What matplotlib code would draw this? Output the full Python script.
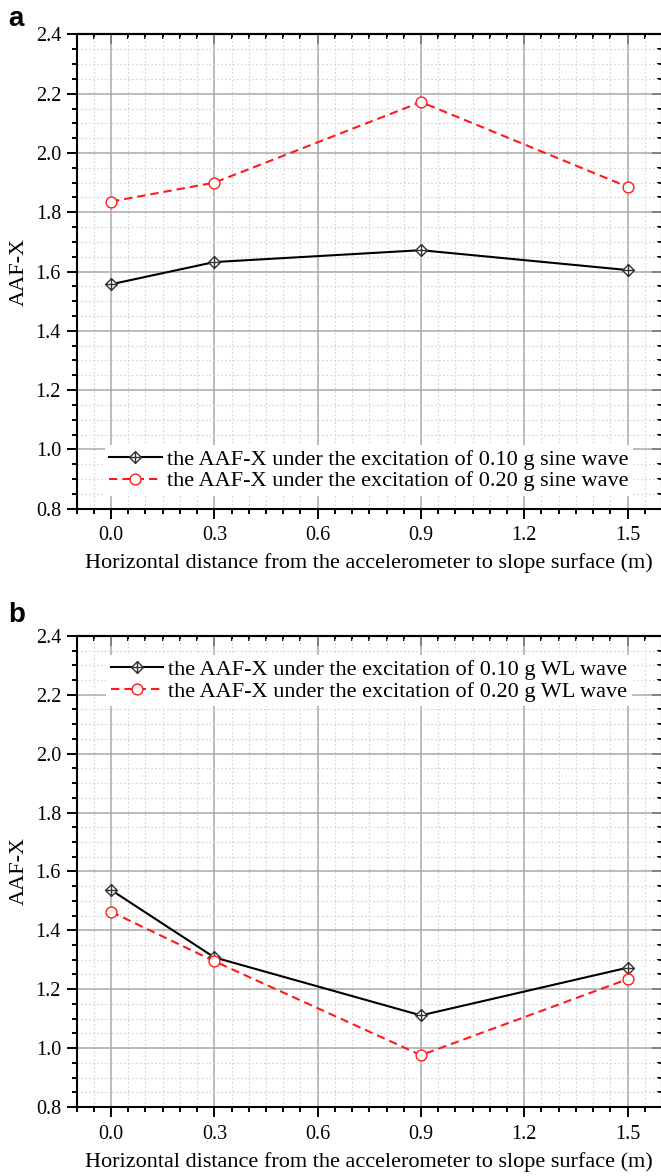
import matplotlib
matplotlib.use('Agg')
import matplotlib.pyplot as plt
from matplotlib.path import Path
from matplotlib.ticker import MultipleLocator

plt.rcParams['font.family'] = ['Liberation Serif', 'DejaVu Serif']

# distances from slope surface (m)
dist = [0.0, 0.3, 0.9, 1.5]

# panel a: sine wave
sine_010 = [1.557, 1.632, 1.672, 1.605]
sine_020 = [1.836, 1.900, 2.172, 1.886]
# panel b: WL wave
wl_010 = [1.537, 1.308, 1.111, 1.273]
wl_020 = [1.463, 1.295, 0.976, 1.234]

labels_a = ['the AAF-X under the excitation of 0.10 g sine wave',
            'the AAF-X under the excitation of 0.20 g sine wave']
labels_b = ['the AAF-X under the excitation of 0.10 g WL wave',
            'the AAF-X under the excitation of 0.20 g WL wave']

xticks = [0.0, 0.3, 0.6, 0.9, 1.2, 1.5]
yticks = [0.8, 1.0, 1.2, 1.4, 1.6, 1.8, 2.0, 2.2, 2.4]

# diamond with a cross inside (Origin style)
diamond_cross = Path(
    [(0, 1), (1, 0), (0, -1), (-1, 0), (0, 1), (0, 1), (0, -1), (-1, 0), (1, 0)],
    [Path.MOVETO, Path.LINETO, Path.LINETO, Path.LINETO, Path.CLOSEPOLY,
     Path.MOVETO, Path.LINETO, Path.MOVETO, Path.LINETO])

fig = plt.figure(figsize=(6.61, 11.76), dpi=100)
ax_a = fig.add_axes([0.1159, 0.5675, 0.8856, 0.4032])
ax_b = fig.add_axes([0.1159, 0.0587, 0.8856, 0.4006])


def style_axes(ax):
    ax.set_xlim(-0.1, 1.6)
    ax.set_ylim(0.8, 2.4)
    ax.set_xticks(xticks)
    ax.set_yticks(yticks)
    ax.xaxis.set_minor_locator(MultipleLocator(0.05))
    ax.yaxis.set_minor_locator(MultipleLocator(0.05))
    ax.set_xticklabels(['%.1f' % t for t in xticks])
    ax.set_yticklabels(['%.1f' % t for t in yticks])
    ax.grid(which='major', color='#a8a8a8', linewidth=1.1, linestyle='-')
    ax.grid(which='minor', color='#d4d4d4', linewidth=0.8, linestyle=(0, (1.5, 2)))
    ax.set_axisbelow(True)
    for s in ax.spines.values():
        s.set_linewidth(1.5)
    ax.tick_params(which='both', direction='out', width=1.4, labelsize=14.5,
                   top=False, right=False)
    ax.tick_params(which='major', length=7.2)
    ax.tick_params(which='minor', length=3.6)
    ax.tick_params(axis='x', which='major', pad=5.5)
    ax.tick_params(axis='y', which='major', pad=4)
    # mirrored ticks on top / right, pointing inwards
    top = ax.secondary_xaxis('top')
    top.set_xticks(xticks)
    top.xaxis.set_minor_locator(MultipleLocator(0.05))
    top.tick_params(which='both', direction='in', width=1.4, labeltop=False)
    top.tick_params(which='major', length=7.2)
    top.tick_params(which='minor', length=3.6)
    top.spines['top'].set_linewidth(1.5)
    right = ax.secondary_yaxis('right')
    right.set_yticks(yticks)
    right.yaxis.set_minor_locator(MultipleLocator(0.05))
    right.tick_params(which='both', direction='in', width=1.4, labelright=False)
    right.tick_params(which='major', length=7.2)
    right.tick_params(which='minor', length=3.6)
    ax.set_xlabel('Horizontal distance from the accelerometer to slope surface (m)',
                  fontsize=16, labelpad=6)
    ax.set_ylabel('AAF-X', fontsize=16, labelpad=5)


def draw(ax, y1, y2, labels, legend_xy):
    ax.plot(dist, y1, color='black', linewidth=1.5, marker=diamond_cross,
            markersize=8.5, markerfacecolor='white', markeredgecolor='#333333',
            markeredgewidth=1.0, label=labels[0])
    l2, = ax.plot(dist, y2, color='#ff1a1a', linewidth=1.5, linestyle='--',
                  marker='o', markersize=7.8, markerfacecolor='white',
                  markeredgecolor='#ff1a1a', markeredgewidth=1.0, label=labels[1])
    l2.set_dashes((4, 2.4))
    leg = ax.legend(loc='center', bbox_to_anchor=legend_xy, fontsize=16,
                    frameon=True, framealpha=1, edgecolor='none', fancybox=False,
                    handlelength=2.35, handletextpad=0.25, labelspacing=0.05,
                    borderpad=0.2, borderaxespad=0)
    leg.get_frame().set_linewidth(0)


style_axes(ax_a)
style_axes(ax_b)
draw(ax_a, sine_010, sine_020, labels_a, (0.4995, 0.081))
draw(ax_b, wl_010, wl_020, labels_b, (0.4995, 0.905))

fig.text(0.012, 0.995, 'a', fontsize=20, fontweight='bold',
         family='Liberation Sans', va='top', ha='left')
fig.text(0.012, 0.4885, 'b', fontsize=20, fontweight='bold',
         family='Liberation Sans', va='top', ha='left')

fig.savefig('out.png', dpi=100)
